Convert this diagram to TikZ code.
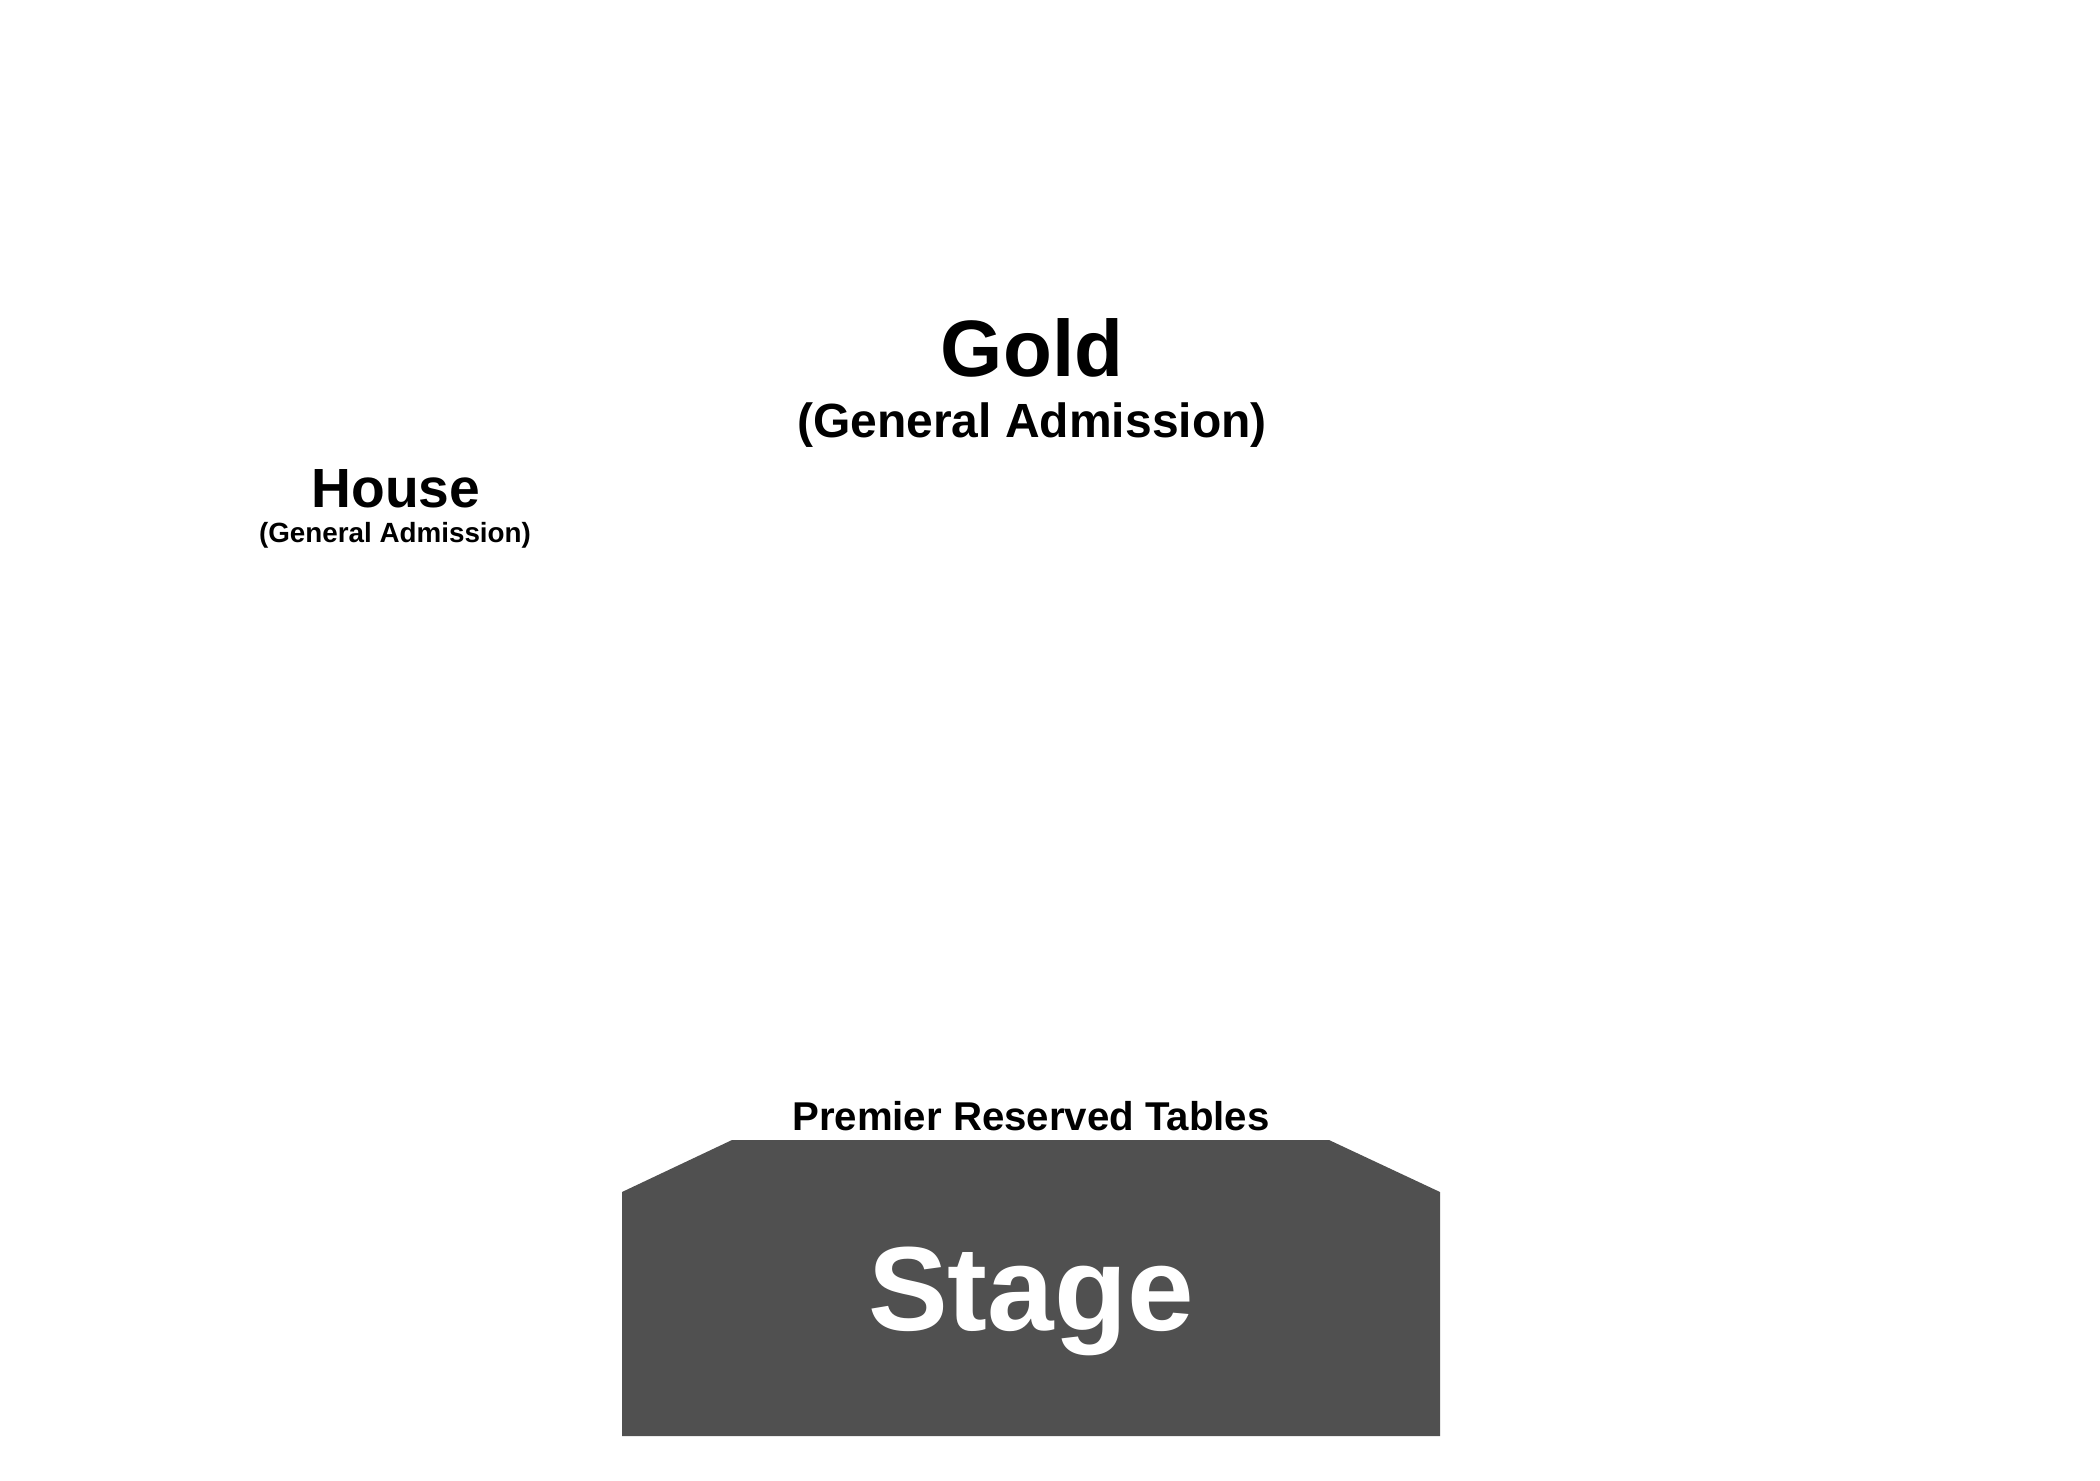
\documentclass[tikz,border=0pt]{standalone}
\usepackage{fontspec}
\setmainfont{Liberation Sans}
\definecolor{stagegray}{RGB}{80,80,80}
\begin{document}
\begin{tikzpicture}[x=0.5pt,y=-0.5pt,
  lbl/.style={inner sep=0pt,anchor=base,font=\bfseries}]
\useasboundingbox (0,0) rectangle (2100,1480);
\fill[white] (0,0) rectangle (2100,1480);
% stage
\fill[stagegray] (622,1436) -- (622,1192) -- (732,1140) -- (1329,1140) -- (1440,1192) -- (1440,1436) -- cycle;
\node[lbl,text=white,font=\bfseries\fontsize{59.8}{62}\selectfont] (stage) at (1031,1330) {Stage};
\node[lbl,font=\bfseries\fontsize{20.1}{22}\selectfont] (premier) at (1031,1130) {Premier Reserved Tables};
\node[lbl,font=\bfseries\fontsize{40}{42}\selectfont] (gold) at (1032,376) {Gold};
\node[lbl,font=\bfseries\fontsize{24}{26}\selectfont] (goldga) at (1032,437) {(General Admission)};
\node[lbl,font=\bfseries\fontsize{27.6}{29}\selectfont] (house) at (396,507) {House};
\node[lbl,font=\bfseries\fontsize{13.9}{15}\selectfont] (housega) at (395,542) {(General Admission)};
\end{tikzpicture}
\end{document}
